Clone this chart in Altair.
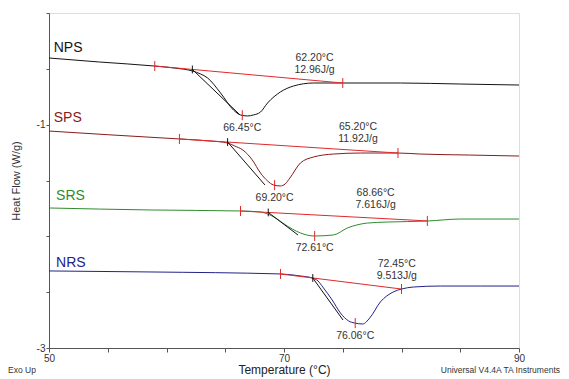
import altair as alt
import pandas as pd
import numpy as np

SERIES = ["NPS", "SPS", "SRS", "NRS"]
COLORS = ["#141414", "#8B1A1A", "#2E8B2E", "#22228A"]

NPS_T = [50.0, 54.3, 59.0, 60.7, 62.2, 62.9, 63.5, 64.6, 65.7, 66.3, 66.9, 67.4, 68.0, 68.6, 69.7, 70.8, 72.5, 75.0, 79.9, 85.0, 90.0]
NPS_HF = [-0.403, -0.439, -0.475, -0.493, -0.519, -0.546, -0.582, -0.716, -0.869, -0.913, -0.922, -0.913, -0.887, -0.806, -0.707, -0.654, -0.627, -0.627, -0.627, -0.636, -0.645]

SPS_T = [50.0, 55.0, 61.1, 63.7, 65.2, 65.8, 66.5, 67.3, 68.0, 68.6, 69.1, 69.7, 70.1, 70.5, 71.4, 72.5, 74.2, 76.5, 79.7, 81.6, 85.8, 90.0]
SPS_HF = [-1.057, -1.090, -1.128, -1.146, -1.164, -1.191, -1.227, -1.316, -1.433, -1.504, -1.540, -1.549, -1.531, -1.478, -1.343, -1.290, -1.263, -1.254, -1.254, -1.263, -1.272, -1.281]

SRS_T = [50.0, 58.6, 66.3, 68.0, 68.6, 69.3, 69.9, 70.7, 71.4, 72.6, 74.2, 75.4, 76.2, 77.1, 78.8, 82.2, 85.0, 90.0]
SRS_HF = [-1.746, -1.764, -1.773, -1.782, -1.800, -1.836, -1.881, -1.934, -1.970, -1.997, -1.988, -1.925, -1.898, -1.881, -1.872, -1.863, -1.845, -1.845]

NRS_T = [50.0, 58.6, 69.7, 71.4, 72.4, 72.9, 73.3, 74.1, 74.8, 75.5, 76.0, 76.7, 77.3, 78.2, 79.3, 80.0, 81.0, 83.3, 86.7, 90.0]
NRS_HF = [-2.310, -2.319, -2.337, -2.355, -2.373, -2.400, -2.454, -2.570, -2.686, -2.758, -2.776, -2.785, -2.731, -2.588, -2.498, -2.472, -2.454, -2.445, -2.445, -2.445]

# integration baselines (start / end)
BASE_T0 = [59.0, 61.1, 66.3, 69.7]
BASE_HF0 = [-0.475, -1.128, -1.773, -2.337]
BASE_T1 = [75.0, 79.7, 82.2, 80.0]
BASE_HF1 = [-0.627, -1.254, -1.862, -2.472]

ONSET = [62.20, 65.20, 68.66, 72.45]
PEAK = [66.45, 69.20, 72.61, 76.06]
ENTHALPY = ["12.96J/g", "11.92J/g", "7.616J/g", "9.513J/g"]

# onset tangent end points
TAN_T = [66.26, 68.38, 71.19, 75.02]
TAN_HF = [-0.913, -1.540, -1.988, -2.749]

# label anchors for onset / enthalpy text
ANN_T = [72.6, 76.3, 77.8, 79.6]
ANN_HF = [-0.40, -1.02, -1.61, -2.25]

NAME_T = [50.4, 50.4, 50.6, 50.6]
NAME_HF = [-0.313, -0.940, -1.639, -2.239]

CURVES = {"NPS": (NPS_T, NPS_HF), "SPS": (SPS_T, SPS_HF), "SRS": (SRS_T, SRS_HF), "NRS": (NRS_T, NRS_HF)}

rows = []
for s in SERIES:
    T, H = CURVES[s]
    for t, h in zip(T, H):
        rows.append({"series": s, "T": t, "HF": h})
curve_df = pd.DataFrame(rows)

base_rows, tan_rows, red_ticks, black_ticks, peak_rows, ann_rows, name_rows = [], [], [], [], [], [], []
TK = 0.045
for i, s in enumerate(SERIES):
    T, H = CURVES[s]
    base_rows.append({"series": s, "T": BASE_T0[i], "HF": BASE_HF0[i]})
    base_rows.append({"series": s, "T": BASE_T1[i], "HF": BASE_HF1[i]})
    on_hf = float(np.interp(ONSET[i], [BASE_T0[i], BASE_T1[i]], [BASE_HF0[i], BASE_HF1[i]]))
    pk_hf = float(np.interp(PEAK[i], T, H))
    tan_rows.append({"series": s, "T": ONSET[i], "HF": on_hf})
    tan_rows.append({"series": s, "T": TAN_T[i], "HF": TAN_HF[i]})
    for t, h in [(BASE_T0[i], BASE_HF0[i]), (BASE_T1[i], BASE_HF1[i]), (PEAK[i], pk_hf)]:
        red_ticks.append({"T": t, "y": h - TK, "y2": h + TK})
    black_ticks.append({"T": ONSET[i], "y": on_hf - 0.035, "y2": on_hf + 0.035})
    peak_rows.append({"T": PEAK[i], "HF": min(H), "label": f"{PEAK[i]:.2f}°C"})
    ann_rows.append({"T": ANN_T[i], "HF": ANN_HF[i], "label": f"{ONSET[i]:.2f}°C"})
    ann_rows.append({"T": ANN_T[i], "HF": ANN_HF[i] - 0.107, "label": ENTHALPY[i]})
    name_rows.append({"series": s, "T": NAME_T[i], "HF": NAME_HF[i]})

FONT = "Liberation Sans"
xscale = alt.Scale(domain=[50, 90], nice=False, zero=False)
yscale = alt.Scale(domain=[-3, 0], nice=False, zero=False)
cscale = alt.Scale(domain=SERIES, range=COLORS)

xaxis = alt.Axis(values=list(range(50, 91, 5)),
                 labelExpr="(datum.value - 50) % 20 == 0 ? datum.label : ''",
                 grid=False, tickSize=4, tickColor="#555", domainColor="#555",
                 labelFont=FONT, labelFontSize=10, labelColor="#333", labelPadding=1,
                 labelFlush=False, title="Temperature (°C)", titleFont=FONT,
                 titleFontSize=12, titleFontWeight="normal", titleColor="#222",
                 titleX=235, titleY=21, titleBaseline="middle", titleAlign="center")
yaxis = alt.Axis(values=[-3, -2.5, -2, -1.5, -1, -0.5, 0],
                 labelExpr="datum.value == -1 ? '-1' : (datum.value == -3 ? '-3' : '')",
                 grid=False, tickSize=3, tickColor="#555", domainColor="#555",
                 labelFont=FONT, labelFontSize=10, labelColor="#333", labelPadding=1,
                 labelFlush=False, title="Heat Flow (W/g)", titleFont=FONT,
                 titleFontSize=11, titleFontWeight="normal", titleColor="#333",
                 titleX=-33, titleY=167.5, titleBaseline="middle", titleAlign="center", titleAngle=270)

X = alt.X("T:Q", scale=xscale, axis=xaxis)
Y = alt.Y("HF:Q", scale=yscale, axis=yaxis)

lines = alt.Chart(curve_df).mark_line(strokeWidth=1, interpolate="monotone").encode(
    x=X, y=Y, color=alt.Color("series:N", scale=cscale, legend=None), detail="series:N")

base = alt.Chart(pd.DataFrame(base_rows)).mark_line(strokeWidth=1, color="#E0282A").encode(
    x=alt.X("T:Q", scale=xscale), y=alt.Y("HF:Q", scale=yscale), detail="series:N")

tan = alt.Chart(pd.DataFrame(tan_rows)).mark_line(strokeWidth=1, color="#111").encode(
    x=alt.X("T:Q", scale=xscale), y=alt.Y("HF:Q", scale=yscale), detail="series:N")

rticks = alt.Chart(pd.DataFrame(red_ticks)).mark_rule(strokeWidth=1, color="#E0282A").encode(
    x=alt.X("T:Q", scale=xscale), y=alt.Y("y:Q", scale=yscale), y2="y2:Q")
bticks = alt.Chart(pd.DataFrame(black_ticks)).mark_rule(strokeWidth=1, color="#111").encode(
    x=alt.X("T:Q", scale=xscale), y=alt.Y("y:Q", scale=yscale), y2="y2:Q")

peak_txt = alt.Chart(pd.DataFrame(peak_rows)).mark_text(
    font=FONT, fontSize=10.5, color="#333", dy=12, baseline="middle", align="center").encode(
    x=alt.X("T:Q", scale=xscale), y=alt.Y("HF:Q", scale=yscale), text="label:N")
ann_txt = alt.Chart(pd.DataFrame(ann_rows)).mark_text(
    font=FONT, fontSize=10.5, color="#333", baseline="middle", align="center").encode(
    x=alt.X("T:Q", scale=xscale), y=alt.Y("HF:Q", scale=yscale), text="label:N")
name_txt = alt.Chart(pd.DataFrame(name_rows)).mark_text(
    font=FONT, fontSize=14, baseline="middle", align="left").encode(
    x=alt.X("T:Q", scale=xscale), y=alt.Y("HF:Q", scale=yscale), text="series:N",
    color=alt.Color("series:N", scale=cscale, legend=None))

foot = pd.DataFrame({"label": ["Exo Up"]})
exo = alt.Chart(foot).mark_text(font=FONT, fontSize=8.5, color="#333", align="center", baseline="middle").encode(
    x=alt.value(-27), y=alt.value(357), text="label:N")
foot2 = pd.DataFrame({"label": ["Universal V4.4A TA Instruments"]})
uni = alt.Chart(foot2).mark_text(font=FONT, fontSize=8.5, color="#333", align="right", baseline="middle").encode(
    x=alt.value(511), y=alt.value(357), text="label:N")

chart = alt.layer(lines, base, tan, rticks, bticks, peak_txt, ann_txt, name_txt, exo, uni).properties(
    width=470, height=335,
    autosize=alt.AutoSizeParams(type="none"),
    padding={"left": 41, "top": 5, "right": 42, "bottom": 29},
).configure_view(stroke="#777", strokeWidth=1).configure(background="white")

chart.save("out.html", embed_options={"renderer": "svg", "actions": False})
